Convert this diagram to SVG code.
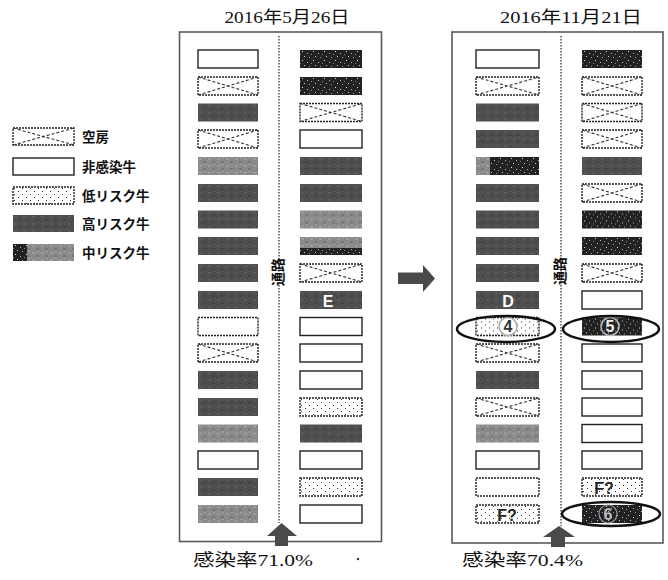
<svg xmlns="http://www.w3.org/2000/svg" width="668" height="580" viewBox="0 0 668 580">
<style>
.bg{fill:#fff}
.panel{fill:none;stroke:#5a5a5a;stroke-width:1.6}
.div{stroke:#333;stroke-width:1.3;stroke-dasharray:1.5 1.5}
.emp{fill:#fff;stroke:#222;stroke-width:1.4;stroke-dasharray:2 1}
.x{fill:none;stroke:#333;stroke-width:1.1;stroke-dasharray:3 2}
.non{fill:#fff;stroke:#222;stroke-width:1.4}
.nond{fill:#fff;stroke:#222;stroke-width:1.4;stroke-dasharray:2 1}
.low{fill:url(#pDots);stroke:#222;stroke-width:1.4;stroke-dasharray:2 1}
.hi{fill:url(#pDark)}
.mid{fill:url(#pMed)}
.blk{fill:url(#pBlack)}
.t{font-family:"Liberation Serif","Noto Sans CJK JP",serif;fill:#111}
.lg{font-family:"Liberation Serif","Noto Sans CJK JP",serif;font-weight:bold;font-size:13.5px;fill:#111}
.lab{font-family:"Liberation Sans","Noto Sans CJK JP",sans-serif;font-weight:bold;font-size:16px}
.ell{fill:none;stroke:#111;stroke-width:2.4}
.arr{fill:#4a4a4a}
</style>
<defs>
<pattern id="pDark" width="9" height="7" patternUnits="userSpaceOnUse">
<rect width="9" height="7" fill="#4e4e4e"/>
<rect x="1" y="1" width="3" height="2" fill="#5a5a5a"/>
<rect x="5" y="4" width="3" height="2" fill="#444"/>
<rect x="6" y="0" width="2" height="1" fill="#565656"/>
</pattern>
<pattern id="pMed" width="9" height="7" patternUnits="userSpaceOnUse">
<rect width="9" height="7" fill="#8a8a8a"/>
<rect x="1" y="1" width="3" height="2" fill="#9c9c9c"/>
<rect x="5" y="4" width="3" height="2" fill="#777"/>
<rect x="6" y="0" width="2" height="1" fill="#a5a5a5"/>
</pattern>
<pattern id="pBlack" width="11" height="9" patternUnits="userSpaceOnUse">
<rect width="11" height="9" fill="#222"/>
<rect x="2" y="1" width="1" height="1" fill="#ddd"/>
<rect x="7" y="3" width="1" height="1" fill="#bbb"/>
<rect x="4" y="6" width="1" height="1" fill="#ccc"/>
<rect x="9" y="7" width="1" height="1" fill="#999"/>
<rect x="0" y="4" width="1" height="1" fill="#888"/>
</pattern>
<pattern id="pDots" width="8" height="6" patternUnits="userSpaceOnUse">
<rect width="8" height="6" fill="#fff"/>
<rect x="1" y="1" width="1" height="1" fill="#333"/>
<rect x="5" y="4" width="1" height="1" fill="#333"/>
</pattern>
</defs>
<rect class="bg" width="668" height="580"/>

<g id="legend">
<g id="lg-empty" transform="translate(13,128)"><rect class="emp" width="61" height="17"/><path class="x" d="M0,0L61,17M0,17L61,0"/><text class="lg" x="69" y="13.5">空房</text></g>
<g id="lg-non" transform="translate(13,158)"><rect class="non" width="61" height="17"/><text class="lg" x="69" y="13.5">非感染牛</text></g>
<g id="lg-low" transform="translate(13,187)"><rect class="low" width="61" height="17"/><text class="lg" x="69" y="13.5">低リスク牛</text></g>
<g id="lg-high" transform="translate(13,215)"><rect class="hi" width="61" height="17"/><text class="lg" x="69" y="13.5">高リスク牛</text></g>
<g id="lg-mid" transform="translate(13,244)"><rect class="mid" width="61" height="17"/><rect class="blk" width="14" height="17"/><text class="lg" x="69" y="13.5">中リスク牛</text></g>
</g>

<g id="panel-left">
<text class="t" x="287" y="23" font-size="17.5" text-anchor="middle" textLength="125" lengthAdjust="spacingAndGlyphs">2016年5月26日</text>
<rect class="panel" x="179.5" y="32" width="202" height="509.5"/>
<line class="div" x1="279" y1="36" x2="279" y2="523"/>
<text class="t" font-size="14" font-weight="bold" transform="translate(283,272) rotate(-90)" text-anchor="middle">通路</text>
</g>

<g id="panel-right">
<text class="t" x="571" y="23" font-size="17.5" text-anchor="middle" textLength="142" lengthAdjust="spacingAndGlyphs">2016年11月21日</text>
<rect class="panel" x="452" y="32" width="211" height="511"/>
<line class="div" x1="561" y1="36" x2="561" y2="526"/>
<text class="t" font-size="14" font-weight="bold" transform="translate(565,271) rotate(-90)" text-anchor="middle">通路</text>
</g>

<!-- Left panel, left column -->
<g id="a1" transform="translate(198,50)"><rect class="non" width="60" height="18"/></g>
<g id="a2" transform="translate(198,77)"><rect class="emp" width="60" height="18"/><path class="x" d="M0,0L60,18M0,18L60,0"/></g>
<g id="a3" transform="translate(198,103.5)"><rect class="hi" width="60" height="18"/></g>
<g id="a4" transform="translate(198,130)"><rect class="emp" width="60" height="18"/><path class="x" d="M0,0L60,18M0,18L60,0" stroke="#999"/></g>
<g id="a5" transform="translate(198,157)"><rect class="mid" width="60" height="18"/></g>
<g id="a6" transform="translate(198,184)"><rect class="hi" width="60" height="18"/></g>
<g id="a7" transform="translate(198,210.5)"><rect class="hi" width="60" height="18"/></g>
<g id="a8" transform="translate(198,237)"><rect class="hi" width="60" height="18"/></g>
<g id="a9" transform="translate(198,264)"><rect class="hi" width="60" height="18"/></g>
<g id="a10" transform="translate(198,291)"><rect class="hi" width="60" height="18"/></g>
<g id="a11" transform="translate(198,317.5)"><rect class="nond" width="60" height="18"/></g>
<g id="a12" transform="translate(198,344)"><rect class="emp" width="60" height="18"/><path class="x" d="M0,0L60,18M0,18L60,0"/></g>
<g id="a13" transform="translate(198,371)"><rect class="hi" width="60" height="18"/></g>
<g id="a14" transform="translate(198,398)"><rect class="hi" width="60" height="18"/></g>
<g id="a15" transform="translate(198,424.5)"><rect class="mid" width="60" height="18"/></g>
<g id="a16" transform="translate(198,451)"><rect class="non" width="60" height="18"/></g>
<g id="a17" transform="translate(198,478)"><rect class="hi" width="60" height="18"/></g>
<g id="a18" transform="translate(198,505)"><rect class="mid" width="60" height="18"/></g>

<!-- Left panel, right column -->
<g id="b1" transform="translate(300,50)"><rect class="blk" width="62" height="18"/></g>
<g id="b2" transform="translate(300,77)"><rect class="blk" width="62" height="18"/></g>
<g id="b3" transform="translate(300,103.5)"><rect class="emp" width="62" height="18"/><path class="x" d="M0,0L62,18M0,18L62,0"/></g>
<g id="b4" transform="translate(300,130)"><rect class="non" width="62" height="18"/></g>
<g id="b5" transform="translate(300,157)"><rect class="hi" width="62" height="18"/></g>
<g id="b6" transform="translate(300,184)"><rect class="hi" width="62" height="18"/></g>
<g id="b7" transform="translate(300,210.5)"><rect class="mid" width="62" height="18"/></g>
<g id="b8" transform="translate(300,237)"><rect class="mid" width="62" height="18"/><rect class="blk" y="11" width="62" height="7"/></g>
<g id="b9" transform="translate(300,264)"><rect class="emp" width="62" height="18"/><path class="x" d="M0,0L62,18M0,18L62,0"/></g>
<g id="b10" transform="translate(300,291)"><rect class="hi" width="62" height="18"/><text class="lab" x="28" y="15.5" fill="#fff" text-anchor="middle">E</text></g>
<g id="b11" transform="translate(300,317.5)"><rect class="non" width="62" height="18"/></g>
<g id="b12" transform="translate(300,344)"><rect class="non" width="62" height="18"/></g>
<g id="b13" transform="translate(300,371)"><rect class="non" width="62" height="18"/></g>
<g id="b14" transform="translate(300,398)"><rect class="low" width="62" height="18"/></g>
<g id="b15" transform="translate(300,424.5)"><rect class="hi" width="62" height="18"/></g>
<g id="b16" transform="translate(300,451)"><rect class="non" width="62" height="18"/></g>
<g id="b17" transform="translate(300,478)"><rect class="low" width="62" height="18"/></g>
<g id="b18" transform="translate(300,505)"><rect class="non" width="62" height="18"/></g>

<!-- Right panel, left column -->
<g id="c1" transform="translate(476,50)"><rect class="non" width="63" height="18"/></g>
<g id="c2" transform="translate(476,77)"><rect class="emp" width="63" height="18"/><path class="x" d="M0,0L63,18M0,18L63,0"/></g>
<g id="c3" transform="translate(476,103.5)"><rect class="hi" width="63" height="18"/></g>
<g id="c4" transform="translate(476,130)"><rect class="hi" width="63" height="18"/></g>
<g id="c5" transform="translate(476,157)"><rect class="blk" width="63" height="18"/><rect class="mid" width="14" height="18"/></g>
<g id="c6" transform="translate(476,184)"><rect class="hi" width="63" height="18"/></g>
<g id="c7" transform="translate(476,210.5)"><rect class="hi" width="63" height="18"/></g>
<g id="c8" transform="translate(476,237)"><rect class="hi" width="63" height="18"/></g>
<g id="c9" transform="translate(476,264)"><rect class="hi" width="63" height="18"/></g>
<g id="c10" transform="translate(476,291)"><rect class="hi" width="63" height="18"/><text class="lab" x="32" y="15.5" fill="#fff" text-anchor="middle">D</text></g>
<g id="c11" transform="translate(476,317.5)"><rect class="low" width="63" height="18"/><circle cx="32" cy="9" r="9" fill="#fff" stroke="#aaa" stroke-width="1.5"/><text class="lab" x="32" y="14.5" fill="#333" text-anchor="middle">4</text></g>
<g id="c12" transform="translate(476,344)"><rect class="emp" width="63" height="18"/><path class="x" d="M0,0L63,18M0,18L63,0"/></g>
<g id="c13" transform="translate(476,371)"><rect class="hi" width="63" height="18"/></g>
<g id="c14" transform="translate(476,398)"><rect class="emp" width="63" height="18"/><path class="x" d="M0,0L63,18M0,18L63,0" stroke="#888"/></g>
<g id="c15" transform="translate(476,424.5)"><rect class="mid" width="63" height="18"/></g>
<g id="c16" transform="translate(476,451)"><rect class="non" width="63" height="18"/></g>
<g id="c17" transform="translate(476,478)"><rect class="nond" width="63" height="18"/></g>
<g id="c18" transform="translate(476,505)"><rect class="low" width="63" height="18"/><text class="lab" x="31" y="15.5" fill="#222" text-anchor="middle">F?</text></g>

<!-- Right panel, right column -->
<g id="d1" transform="translate(582,50)"><rect class="blk" width="60" height="18"/></g>
<g id="d2" transform="translate(582,77)"><rect class="emp" width="60" height="18"/><path class="x" d="M0,0L60,18M0,18L60,0"/></g>
<g id="d3" transform="translate(582,103.5)"><rect class="emp" width="60" height="18"/><path class="x" d="M0,0L60,18M0,18L60,0"/></g>
<g id="d4" transform="translate(582,130)"><rect class="emp" width="60" height="18"/><path class="x" d="M0,0L60,18M0,18L60,0"/></g>
<g id="d5" transform="translate(582,157)"><rect class="hi" width="60" height="18"/></g>
<g id="d6" transform="translate(582,184)"><rect class="emp" width="60" height="18"/><path class="x" d="M0,0L60,18M0,18L60,0"/></g>
<g id="d7" transform="translate(582,210.5)"><rect class="blk" width="60" height="18"/></g>
<g id="d8" transform="translate(582,237)"><rect class="blk" width="60" height="18"/></g>
<g id="d9" transform="translate(582,264)"><rect class="emp" width="60" height="18"/><path class="x" d="M0,0L60,18M0,18L60,0"/></g>
<g id="d10" transform="translate(582,291)"><rect class="non" width="60" height="18"/></g>
<g id="d11" transform="translate(582,317.5)"><rect class="blk" width="60" height="18"/><circle cx="28" cy="9" r="9" fill="none" stroke="#bbb" stroke-width="1.5"/><text class="lab" x="28" y="14.5" fill="#eee" text-anchor="middle">5</text></g>
<g id="d12" transform="translate(582,344)"><rect class="non" width="60" height="18"/></g>
<g id="d13" transform="translate(582,371)"><rect class="non" width="60" height="18"/></g>
<g id="d14" transform="translate(582,398)"><rect class="non" width="60" height="18"/></g>
<g id="d15" transform="translate(582,424.5)"><rect class="non" width="60" height="18"/></g>
<g id="d16" transform="translate(582,451)"><rect class="non" width="60" height="18"/></g>
<g id="d17" transform="translate(582,478)"><rect class="low" width="60" height="18"/><text class="lab" x="22" y="15.5" fill="#222" text-anchor="middle">F?</text></g>
<g id="d18" transform="translate(582,505)"><rect class="blk" width="60" height="18"/><circle cx="26" cy="9" r="9" fill="none" stroke="#999" stroke-width="1.2"/><text class="lab" x="26" y="14.5" fill="#bbb" text-anchor="middle">6</text></g>

<g id="highlights">
<ellipse class="ell" cx="506" cy="329" rx="49" ry="13"/>
<ellipse class="ell" cx="611" cy="329" rx="48" ry="13"/>
<ellipse class="ell" cx="611" cy="514" rx="49" ry="12"/>
</g>

<g id="connectors">
<path class="arr" d="M398,272.5H423V265L435,278.5L423,292V284H398Z" fill="#555"/>
<path class="arr" d="M281.5,523L297,536H288V546H275V536H267Z"/>
<path class="arr" d="M559,526L575,537H565V547H551V537H543Z"/>
</g>

<g id="rates">
<text class="t" x="193" y="566" font-size="17.5" textLength="120" lengthAdjust="spacingAndGlyphs">感染率71.0%</text>
<circle cx="358" cy="559" r="1.2" fill="#333"/>
<text class="t" x="462" y="566" font-size="17.5" textLength="121" lengthAdjust="spacingAndGlyphs">感染率70.4%</text>
</g>
</svg>
